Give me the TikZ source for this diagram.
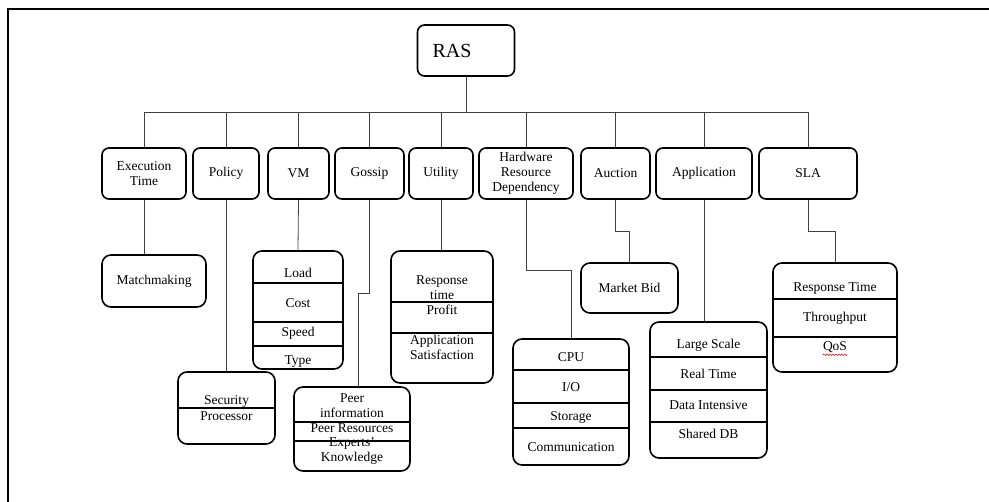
\documentclass[tikz,border=0pt]{standalone}
\usepackage{fontspec}
\setmainfont{Liberation Serif}
\usepackage{tikz}
\usetikzlibrary{calc,positioning,decorations.pathmorphing}
\tikzset{
    %Define style for boxes
    root/.style={
        rectangle,
        rounded corners=7pt,
        draw=black, line width=1.6pt,
        minimum width=97pt,
        minimum height=51pt,
        inner xsep=15pt,
        text width=67pt,
        align=left,
        font=\fontsize{20}{22}\selectfont,
    },
    topic/.style={
        rectangle,
        rounded corners=7pt,
        draw=black, line width=1.6pt,
        minimum height=51pt,
        inner sep=1pt,
        align=center,
        font=\fontsize{13.5}{15}\selectfont,
    },
    leaf/.style={
        rectangle,
        rounded corners=9pt,
        draw=black, line width=1.6pt,
        inner sep=1pt,
        align=center,
        font=\fontsize{13.5}{15}\selectfont,
    },
    cell/.style={
        draw = none,
        align = center,
        inner sep = 0pt,
        font = \fontsize{13.5}{15}\selectfont,
    },
    divider/.style={
        draw=black,
        line width=1.1pt,
    },
    link/.style={
        draw=black!75,
        line width=0.8pt,
    },
    frame/.style={
        draw=black,
        line width=1.4pt,
    },
    squiggle/.style={
        draw=red,
        line width=0.6pt,
        decorate,
        decoration={snake, amplitude=0.8pt, segment length=3pt},
    },
}

\begin{document}
\begin{tikzpicture}[x=1pt,y=-1pt]
    \useasboundingbox (0,0) rectangle (989,502);
    \draw[frame] (8,502) -- (8,9) -- (989,9);

    % root and first level
    \node[root] (ras) at (466,50.5) {RAS};
    \node[topic, minimum width=84pt] (exec) at (144,173.5) {Execution\\Time};
    \node[topic, minimum width=66pt] (policy) at (226,173.5) {Policy};
    \node[topic, minimum width=61pt] (vm) at (298.5,173.5) {VM};
    \node[topic, minimum width=69pt] (gossip) at (369.5,173.5) {Gossip};
    \node[topic, minimum width=64pt] (utility) at (441,173.5) {Utility};
    \node[topic, minimum width=94pt] (hrd) at (526,173.5) {Hardware\\Resource\\Dependency};
    \node[topic, minimum width=69pt] (auction) at (615.5,173.5) {Auction};
    \node[topic, minimum width=96pt] (application) at (704,173.5) {Application};
    \node[topic, minimum width=98pt] (sla) at (808,173.5) {SLA};

    \coordinate (bus) at (466,112);
    \draw[link] (ras.south) -- (bus);
    \draw[link] (exec.north |- bus) -- (sla.north |- bus);
    \foreach \n in {exec,policy,vm,gossip,utility,hrd,auction,application,sla}
        \draw[link] (\n.north |- bus) -- (\n.north);

    % second level
    \node[leaf, minimum width=104pt, minimum height=52pt] (match) at (154,281) {Matchmaking};
    \draw[link] (exec.south) -- (exec.south |- match.north);

    \node[leaf, minimum width=97pt, minimum height=72pt] (secproc) at (226.5,408) {};
    \draw[divider] (secproc.west |- 0,408) -- (secproc.east |- 0,408);
    \node[cell] (security) at (226.5,401) {Security};
    \node[cell] (processor) at (226.5,416) {Processor};
    \draw[link] (policy.south) -- (policy.south |- secproc.north);

    \node[leaf, minimum width=90pt, minimum height=118pt] (vmbox) at (298,310) {};
    \foreach \y in {283,322,346}
        \draw[divider] (vmbox.west |- 0,\y) -- (vmbox.east |- 0,\y);
    \node[cell] (load) at (298,273) {Load};
    \node[cell] (cost) at (298,303) {Cost};
    \node[cell] (speed) at (298,333) {Speed};
    \node[cell] (type) at (298,362) {Type};
    \draw[link] (vm.south) -- (vmbox.north);

    \node[leaf, minimum width=116pt, minimum height=84pt] (peer) at (352,429) {};
    \foreach \y in {422,441}
        \draw[divider] (peer.west |- 0,\y) -- (peer.east |- 0,\y);
    \node[cell] (peerinfo) at (352,406) {Peer\\information};
    \node[cell] (peerres) at (352,428) {Peer Resources};
    \node[cell] (experts) at (352,451) {Experts'\\Knowledge};
    \coordinate (jog1) at (358,293);
    \draw[link] (gossip.south) |- (jog1) -- (jog1 |- peer.north);

    \node[leaf, minimum width=102pt, minimum height=132pt] (respbox) at (442,317) {};
    \foreach \y in {302,333}
        \draw[divider] (respbox.west |- 0,\y) -- (respbox.east |- 0,\y);
    \node[cell] (resptime) at (442,287.5) {Response\\time};
    \node[cell] (profit) at (442,310) {Profit};
    \node[cell] (appsat) at (442,347.5) {Application\\Satisfaction};
    \draw[link] (utility.south) -- (utility.south |- respbox.north);

    \node[leaf, minimum width=116pt, minimum height=126pt] (cpubox) at (571,402) {};
    \foreach \y in {370,403,428}
        \draw[divider] (cpubox.west |- 0,\y) -- (cpubox.east |- 0,\y);
    \node[cell] (cpu) at (571,357) {CPU};
    \node[cell] (io) at (571,387) {I/O};
    \node[cell] (storage) at (571,417) {Storage};
    \node[cell] (comm) at (571,447) {Communication};
    \draw[link] (hrd.south) |- (cpubox.north |- 0,270) -- (cpubox.north);

    \node[leaf, minimum width=97pt, minimum height=50pt] (market) at (629.5,288) {Market Bid};
    \draw[link] (auction.south) |- (market.north |- 0,231) -- (market.north);

    \node[leaf, minimum width=117pt, minimum height=136pt] (largebox) at (708.5,390) {};
    \foreach \y in {357,390,422}
        \draw[divider] (largebox.west |- 0,\y) -- (largebox.east |- 0,\y);
    \node[cell] (large) at (708.5,345) {Large Scale};
    \node[cell] (realtime) at (708.5,374) {Real Time};
    \node[cell] (dataint) at (708.5,405) {Data Intensive};
    \node[cell] (shareddb) at (708.5,434) {Shared DB};
    \draw[link] (application.south) -- (application.south |- largebox.north);

    \node[leaf, minimum width=124pt, minimum height=109pt] (slabox) at (835,317.5) {};
    \foreach \y in {299,337}
        \draw[divider] (slabox.west |- 0,\y) -- (slabox.east |- 0,\y);
    \node[cell] (slaresp) at (835,288) {Response Time};
    \node[cell] (through) at (835,318) {Throughput};
    \node[cell] (qos) at (835,347) {QoS};
    \draw[squiggle] ($(qos.south west)+(0,2)$) -- ($(qos.south east)+(0,2)$);
    \draw[link] (sla.south) |- (slabox.north |- 0,231) -- (slabox.north);
\end{tikzpicture}
\end{document}
